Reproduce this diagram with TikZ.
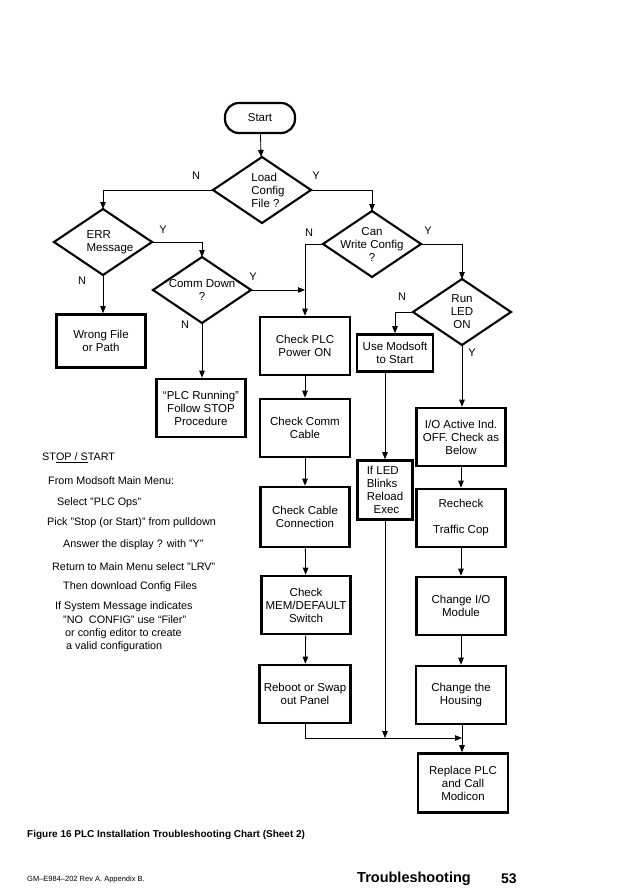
\documentclass[tikz,border=0pt]{standalone}
\usepackage{fontspec}
\setmainfont{Liberation Sans}
\usetikzlibrary{positioning, arrows.meta}

\tikzset{
  terminal/.style={draw, line width=2.2pt, rounded corners=14pt, minimum width=70, minimum height=30, font=\fontsize{11.5}{13}\selectfont},
  decision/.style={minimum width=98, minimum height=66, inner sep=0pt, outer sep=0pt, align=center, font=\fontsize{11.5}{13}\selectfont},
  box/.style={draw, line width=2.6pt, minimum width=89, minimum height=58, inner sep=1pt, align=center, font=\fontsize{11.5}{13}\selectfont},
  flow/.style={line width=0.8pt, -{Triangle[length=7pt,width=5.5pt]}},
  yn/.style={inner sep=0pt, font=\fontsize{11}{12}\selectfont},
  note/.style={anchor=west, inner sep=0pt, font=\fontsize{10.8}{12}\selectfont},
}

\begin{document}
\begin{tikzpicture}[x=1pt, y=-1pt]
  \useasboundingbox (0,0) rectangle (627,894);
  % Start and decisions
  \node[terminal] (start) at (260,118) {Start};
  \node[decision, align=left] (load) at (262,190) {\hspace*{12pt}Load\\\hspace*{12pt}Config\\\hspace*{12pt}File ?};
  \node[decision, align=left] (err) at (103,242) {\hspace*{14pt}ERR\\\hspace*{14pt}Message};
  \node[decision] (comm) at (202,290) {Comm Down\\?};
  \node[decision] (write) at (372,244) {Can\\Write Config\\?};
  \node[decision] (led) at (462,312) {Run\\LED\\ON};
  \foreach \d in {load,err,comm,write,led}
    \draw[line width=2.1pt] (\d.north) -- (\d.east) -- (\d.south) -- (\d.west) -- cycle;

  % Left branch
  \node[box, minimum height=53] (wrong) at (101,341) {Wrong File\\or Path};
  \node[box] (running) at (201,408) {“PLC Running”\\Follow STOP\\Procedure};

  % Middle column
  \node[box, minimum width=90] (power) at (305,346) {Check PLC\\Power ON};
  \node[box, minimum width=90] (cable) at (305,428) {Check Comm\\Cable};
  \node[box, minimum height=60] (connection) at (305,517) {Check Cable\\Connection};
  \node[box] (memdef) at (306,605) {Check\\MEM/DEFAULT\\Switch};
  \node[box, minimum width=91] (reboot) at (305,694) {Reboot or Swap\\out Panel};

  % Modsoft column
  \node[box, minimum width=76, minimum height=37] (modsoft) at (395,353) {Use Modsoft\\to Start};
  \node[box, minimum width=55, minimum height=59, align=left] (blinks) at (385,490) {If LED\\Blinks\\Reload\\\hspace*{0.6em}Exec};

  % Right column
  \node[box] (ioact) at (461,437) {I/O Active Ind.\\OFF. Check as\\Below};
  \node[box] (recheck) at (461,518) {Recheck\\[13pt]Traffic Cop};
  \node[box] (chio) at (461,606) {Change I/O\\Module};
  \node[box, minimum width=90] (housing) at (461,695) {Change the\\Housing};
  \node[box, minimum width=90, minimum height=59] (replace) at (463,783) {Replace PLC\\and Call\\Modicon};
  \coordinate (join) at (462,738);

  % Connectors
  \draw[flow] (start) -- (load);
  \draw[flow] (load.west) -| (err.north);
  \draw[flow] (load.east) -| (write.north);
  \draw[flow] (err.south) -- (err.south |- wrong.north);
  \draw[flow] (err.east) -| (comm.north);
  \draw[flow] (comm.south) -- (comm.south |- running.north);
  \draw[flow] (comm.east) -- (comm.east -| power.north);
  \draw[flow] (write.west) -| (power.north);
  \draw[flow] (write.east) -| (led.north);
  \draw[flow] (led.west) -| (modsoft.north);
  \draw[flow] (led.south) -- (led.south |- ioact.north);
  \draw[flow] (modsoft.south -| blinks.north) -- (blinks.north);
  \draw[flow] (power) -- (cable);
  \draw[flow] (cable) -- (connection);
  \draw[flow] (connection) -- (memdef);
  \draw[flow] (memdef) -- (reboot);
  \draw[flow] (ioact) -- (recheck);
  \draw[flow] (recheck) -- (chio);
  \draw[flow] (chio) -- (housing);
  \draw[flow] (housing.south -| join) -- (join |- replace.north);
  \draw[flow] (reboot.south) |- (join);
  \draw[flow] (blinks.south) -- (blinks.south |- join);

  % Y / N labels
  \node[yn] (loadN) at (196,176) {N};
  \node[yn] (loadY) at (316,176) {Y};
  \node[yn] (errY) at (163,230) {Y};
  \node[yn] (errN) at (82,281) {N};
  \node[yn] (commY) at (253,277) {Y};
  \node[yn] (commN) at (185,325) {N};
  \node[yn] (writeN) at (309,233) {N};
  \node[yn] (writeY) at (428,231) {Y};
  \node[yn] (ledN) at (402,297) {N};
  \node[yn] (ledY) at (472,353) {Y};

  % STOP / START notes
  \node[note] (stop) at (42,458) {ST\underline{OP / S}TART};
  \node[note] (menu) at (48,481) {From Modsoft Main Menu:};
  \node[note] (ops) at (57,503) {Select "PLC Ops"};
  \node[note] (pick) at (47,523) {Pick "Stop (or Start)" from pulldown};
  \node[note] (answer) at (63,545) {Answer the display ? with "Y"};
  \node[note] (lrv) at (52,567) {Return to Main Menu select "LRV"};
  \node[note] (download) at (63,587) {Then download Config Files};
  \node[note] (sysmsg) at (55,607) {If System Message indicates};
  \node[note] (noconf) at (63,620) {"NO\ \ CONFIG" use “Filer”};
  \node[note] (editor) at (65,634) {or config editor to create};
  \node[note] (valid) at (66,647) {a valid configuration};

  % Caption and page footer
  \node[anchor=west, inner sep=0pt, font=\bfseries\fontsize{10}{12}\selectfont] (caption) at (27,835) {Figure 16 PLC Installation Troubleshooting Chart (Sheet 2)};
  \node[anchor=west, inner sep=0pt, font=\fontsize{7.5}{9}\selectfont] (docref) at (27,880) {GM–E984–202 Rev A. Appendix B.};
  \node[anchor=west, inner sep=0pt, font=\bfseries\fontsize{14.5}{16}\selectfont] (section) at (357,879) {Troubleshooting};
  \node[anchor=west, inner sep=0pt, font=\bfseries\fontsize{14}{16}\selectfont] (page) at (501,879) {53};
\end{tikzpicture}
\end{document}
